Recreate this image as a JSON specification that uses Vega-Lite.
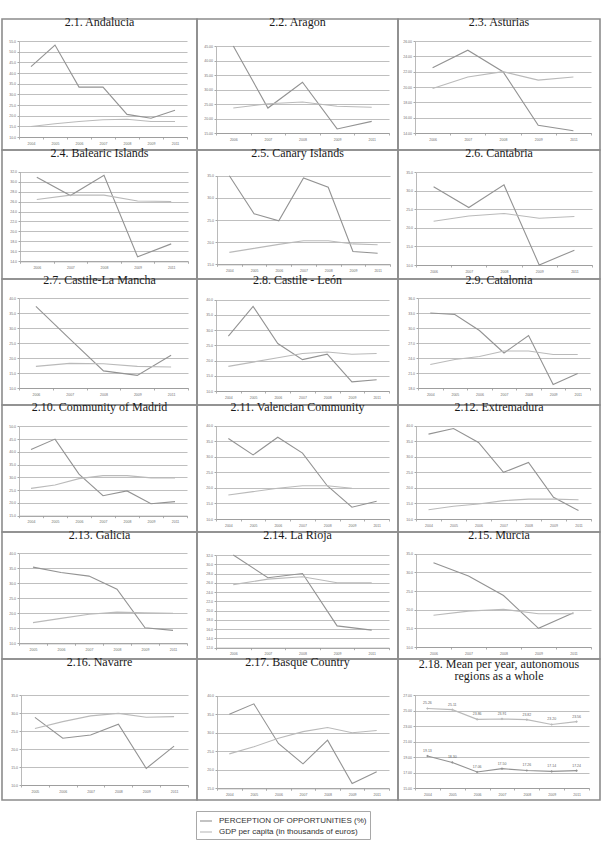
{
  "$schema": "https://vega.github.io/schema/vega-lite/v6.json",
  "padding": {"left": 1, "top": 14, "right": 0, "bottom": 0},
  "background": "white",
  "bounds": "flush",
  "spacing": 0,
  "columns": 3,
  "datasets": {
    "regions": [
    {"p":"2.1","y":"2004","s":"P","v":43.0},{"p":"2.1","y":"2005","s":"P","v":53.1},{"p":"2.1","y":"2006","s":"P","v":33.4},{"p":"2.1","y":"2007","s":"P","v":33.4},{"p":"2.1","y":"2008","s":"P","v":20.6},{"p":"2.1","y":"2009","s":"P","v":18.8},{"p":"2.1","y":"2011","s":"P","v":22.5},
    {"p":"2.1","y":"2004","s":"G","v":14.9},{"p":"2.1","y":"2005","s":"G","v":16.2},{"p":"2.1","y":"2006","s":"G","v":17.3},{"p":"2.1","y":"2007","s":"G","v":18.1},{"p":"2.1","y":"2008","s":"G","v":18.3},{"p":"2.1","y":"2009","s":"G","v":17.3},{"p":"2.1","y":"2011","s":"G","v":17.3},
    {"p":"2.2","y":"2006","s":"P","v":45.0},{"p":"2.2","y":"2007","s":"P","v":23.6},{"p":"2.2","y":"2008","s":"P","v":32.5},{"p":"2.2","y":"2009","s":"P","v":16.4},{"p":"2.2","y":"2011","s":"P","v":19.0},
    {"p":"2.2","y":"2006","s":"G","v":23.6},{"p":"2.2","y":"2007","s":"G","v":25.1},{"p":"2.2","y":"2008","s":"G","v":25.7},{"p":"2.2","y":"2009","s":"G","v":24.2},{"p":"2.2","y":"2011","s":"G","v":23.9},
    {"p":"2.3","y":"2006","s":"P","v":22.5},{"p":"2.3","y":"2007","s":"P","v":24.8},{"p":"2.3","y":"2008","s":"P","v":22.0},{"p":"2.3","y":"2009","s":"P","v":15.0},{"p":"2.3","y":"2011","s":"P","v":14.3},
    {"p":"2.3","y":"2006","s":"G","v":19.8},{"p":"2.3","y":"2007","s":"G","v":21.3},{"p":"2.3","y":"2008","s":"G","v":22.0},{"p":"2.3","y":"2009","s":"G","v":20.9},{"p":"2.3","y":"2011","s":"G","v":21.3},
    {"p":"2.4","y":"2006","s":"P","v":30.9},{"p":"2.4","y":"2007","s":"P","v":27.2},{"p":"2.4","y":"2008","s":"P","v":31.3},{"p":"2.4","y":"2009","s":"P","v":14.9},{"p":"2.4","y":"2011","s":"P","v":17.5},
    {"p":"2.4","y":"2006","s":"G","v":26.4},{"p":"2.4","y":"2007","s":"G","v":27.3},{"p":"2.4","y":"2008","s":"G","v":27.3},{"p":"2.4","y":"2009","s":"G","v":26.1},{"p":"2.4","y":"2011","s":"G","v":26.0},
    {"p":"2.5","y":"2004","s":"P","v":35.0},{"p":"2.5","y":"2005","s":"P","v":26.4},{"p":"2.5","y":"2006","s":"P","v":24.8},{"p":"2.5","y":"2007","s":"P","v":34.5},{"p":"2.5","y":"2008","s":"P","v":32.4},{"p":"2.5","y":"2009","s":"P","v":17.9},{"p":"2.5","y":"2011","s":"P","v":17.5},
    {"p":"2.5","y":"2004","s":"G","v":17.7},{"p":"2.5","y":"2005","s":"G","v":18.6},{"p":"2.5","y":"2006","s":"G","v":19.5},{"p":"2.5","y":"2007","s":"G","v":20.3},{"p":"2.5","y":"2008","s":"G","v":20.3},{"p":"2.5","y":"2009","s":"G","v":19.6},{"p":"2.5","y":"2011","s":"G","v":19.4},
    {"p":"2.6","y":"2006","s":"P","v":31.1},{"p":"2.6","y":"2007","s":"P","v":25.5},{"p":"2.6","y":"2008","s":"P","v":31.6},{"p":"2.6","y":"2009","s":"P","v":10.0},{"p":"2.6","y":"2011","s":"P","v":14.0},
    {"p":"2.6","y":"2006","s":"G","v":21.8},{"p":"2.6","y":"2007","s":"G","v":23.2},{"p":"2.6","y":"2008","s":"G","v":23.9},{"p":"2.6","y":"2009","s":"G","v":22.6},{"p":"2.6","y":"2011","s":"G","v":23.1},
    {"p":"2.7","y":"2006","s":"P","v":37.2},{"p":"2.7","y":"2007","s":"P","v":26.4},{"p":"2.7","y":"2008","s":"P","v":15.7},{"p":"2.7","y":"2009","s":"P","v":14.2},{"p":"2.7","y":"2011","s":"P","v":20.9},
    {"p":"2.7","y":"2006","s":"G","v":17.2},{"p":"2.7","y":"2007","s":"G","v":18.2},{"p":"2.7","y":"2008","s":"G","v":18.1},{"p":"2.7","y":"2009","s":"G","v":17.2},{"p":"2.7","y":"2011","s":"G","v":17.0},
    {"p":"2.8","y":"2004","s":"P","v":28.0},{"p":"2.8","y":"2005","s":"P","v":37.8},{"p":"2.8","y":"2006","s":"P","v":25.6},{"p":"2.8","y":"2007","s":"P","v":20.3},{"p":"2.8","y":"2008","s":"P","v":22.1},{"p":"2.8","y":"2009","s":"P","v":13.0},{"p":"2.8","y":"2011","s":"P","v":13.7},
    {"p":"2.8","y":"2004","s":"G","v":18.1},{"p":"2.8","y":"2005","s":"G","v":19.5},{"p":"2.8","y":"2006","s":"G","v":20.9},{"p":"2.8","y":"2007","s":"G","v":22.3},{"p":"2.8","y":"2008","s":"G","v":22.8},{"p":"2.8","y":"2009","s":"G","v":22.1},{"p":"2.8","y":"2011","s":"G","v":22.3},
    {"p":"2.9","y":"2004","s":"P","v":33.0},{"p":"2.9","y":"2005","s":"P","v":32.7},{"p":"2.9","y":"2006","s":"P","v":29.5},{"p":"2.9","y":"2007","s":"P","v":25.0},{"p":"2.9","y":"2008","s":"P","v":28.5},{"p":"2.9","y":"2009","s":"P","v":18.7},{"p":"2.9","y":"2011","s":"P","v":20.9},
    {"p":"2.9","y":"2004","s":"G","v":22.7},{"p":"2.9","y":"2005","s":"G","v":23.7},{"p":"2.9","y":"2006","s":"G","v":24.3},{"p":"2.9","y":"2007","s":"G","v":25.4},{"p":"2.9","y":"2008","s":"G","v":25.4},{"p":"2.9","y":"2009","s":"G","v":24.7},{"p":"2.9","y":"2011","s":"G","v":24.7},
    {"p":"2.10","y":"2004","s":"P","v":40.9},{"p":"2.10","y":"2005","s":"P","v":45.0},{"p":"2.10","y":"2006","s":"P","v":31.3},{"p":"2.10","y":"2007","s":"P","v":22.8},{"p":"2.10","y":"2008","s":"P","v":24.7},{"p":"2.10","y":"2009","s":"P","v":19.7},{"p":"2.10","y":"2011","s":"P","v":20.5},
    {"p":"2.10","y":"2004","s":"G","v":25.7},{"p":"2.10","y":"2005","s":"G","v":27.0},{"p":"2.10","y":"2006","s":"G","v":29.5},{"p":"2.10","y":"2007","s":"G","v":30.7},{"p":"2.10","y":"2008","s":"G","v":30.7},{"p":"2.10","y":"2009","s":"G","v":29.8},{"p":"2.10","y":"2011","s":"G","v":29.8},
    {"p":"2.11","y":"2004","s":"P","v":35.9},{"p":"2.11","y":"2005","s":"P","v":30.6},{"p":"2.11","y":"2006","s":"P","v":36.3},{"p":"2.11","y":"2007","s":"P","v":31.2},{"p":"2.11","y":"2008","s":"P","v":20.7},{"p":"2.11","y":"2009","s":"P","v":13.8},{"p":"2.11","y":"2011","s":"P","v":15.7},
    {"p":"2.11","y":"2004","s":"G","v":17.7},{"p":"2.11","y":"2005","s":"G","v":18.8},{"p":"2.11","y":"2006","s":"G","v":19.9},{"p":"2.11","y":"2007","s":"G","v":20.7},{"p":"2.11","y":"2008","s":"G","v":20.7},{"p":"2.11","y":"2009","s":"G","v":19.9},
    {"p":"2.12","y":"2004","s":"P","v":37.3},{"p":"2.12","y":"2005","s":"P","v":39.1},{"p":"2.12","y":"2006","s":"P","v":34.6},{"p":"2.12","y":"2007","s":"P","v":25.0},{"p":"2.12","y":"2008","s":"P","v":28.2},{"p":"2.12","y":"2009","s":"P","v":17.0},{"p":"2.12","y":"2011","s":"P","v":12.7},
    {"p":"2.12","y":"2004","s":"G","v":13.0},{"p":"2.12","y":"2005","s":"G","v":14.1},{"p":"2.12","y":"2006","s":"G","v":14.8},{"p":"2.12","y":"2007","s":"G","v":15.9},{"p":"2.12","y":"2008","s":"G","v":16.4},{"p":"2.12","y":"2009","s":"G","v":16.4},{"p":"2.12","y":"2011","s":"G","v":16.2},
    {"p":"2.13","y":"2005","s":"P","v":35.4},{"p":"2.13","y":"2006","s":"P","v":33.6},{"p":"2.13","y":"2007","s":"P","v":32.4},{"p":"2.13","y":"2008","s":"P","v":28.0},{"p":"2.13","y":"2009","s":"P","v":15.2},{"p":"2.13","y":"2011","s":"P","v":14.3},
    {"p":"2.13","y":"2005","s":"G","v":16.9},{"p":"2.13","y":"2006","s":"G","v":18.3},{"p":"2.13","y":"2007","s":"G","v":19.7},{"p":"2.13","y":"2008","s":"G","v":20.4},{"p":"2.13","y":"2009","s":"G","v":20.2},{"p":"2.13","y":"2011","s":"G","v":20.0},
    {"p":"2.14","y":"2006","s":"P","v":32.0},{"p":"2.14","y":"2007","s":"P","v":27.1},{"p":"2.14","y":"2008","s":"P","v":28.0},{"p":"2.14","y":"2009","s":"P","v":16.7},{"p":"2.14","y":"2011","s":"P","v":15.8},
    {"p":"2.14","y":"2006","s":"G","v":25.6},{"p":"2.14","y":"2007","s":"G","v":26.8},{"p":"2.14","y":"2008","s":"G","v":27.3},{"p":"2.14","y":"2009","s":"G","v":26.0},{"p":"2.14","y":"2011","s":"G","v":26.0},
    {"p":"2.15","y":"2006","s":"P","v":32.6},{"p":"2.15","y":"2007","s":"P","v":29.0},{"p":"2.15","y":"2008","s":"P","v":23.8},{"p":"2.15","y":"2009","s":"P","v":15.0},{"p":"2.15","y":"2011","s":"P","v":19.2},
    {"p":"2.15","y":"2006","s":"G","v":18.5},{"p":"2.15","y":"2007","s":"G","v":19.6},{"p":"2.15","y":"2008","s":"G","v":20.1},{"p":"2.15","y":"2009","s":"G","v":18.9},{"p":"2.15","y":"2011","s":"G","v":18.9},
    {"p":"2.16","y":"2005","s":"P","v":28.8},{"p":"2.16","y":"2006","s":"P","v":23.0},{"p":"2.16","y":"2007","s":"P","v":23.9},{"p":"2.16","y":"2008","s":"P","v":26.9},{"p":"2.16","y":"2009","s":"P","v":14.6},{"p":"2.16","y":"2011","s":"P","v":20.8},
    {"p":"2.16","y":"2005","s":"G","v":25.7},{"p":"2.16","y":"2006","s":"G","v":27.6},{"p":"2.16","y":"2007","s":"G","v":29.2},{"p":"2.16","y":"2008","s":"G","v":29.9},{"p":"2.16","y":"2009","s":"G","v":28.8},{"p":"2.16","y":"2011","s":"G","v":29.0},
    {"p":"2.17","y":"2004","s":"P","v":35.0},{"p":"2.17","y":"2005","s":"P","v":37.8},{"p":"2.17","y":"2006","s":"P","v":27.1},{"p":"2.17","y":"2007","s":"P","v":21.6},{"p":"2.17","y":"2008","s":"P","v":28.0},{"p":"2.17","y":"2009","s":"P","v":16.3},{"p":"2.17","y":"2011","s":"P","v":19.5},
    {"p":"2.17","y":"2004","s":"G","v":24.3},{"p":"2.17","y":"2005","s":"G","v":26.2},{"p":"2.17","y":"2006","s":"G","v":28.5},{"p":"2.17","y":"2007","s":"G","v":30.3},{"p":"2.17","y":"2008","s":"G","v":31.4},{"p":"2.17","y":"2009","s":"G","v":30.0},{"p":"2.17","y":"2011","s":"G","v":30.6},
    {"p":"2.18","y":"2004","s":"G","v":25.26},{"p":"2.18","y":"2005","s":"G","v":25.11},{"p":"2.18","y":"2006","s":"G","v":23.86},{"p":"2.18","y":"2007","s":"G","v":23.91},{"p":"2.18","y":"2008","s":"G","v":23.82},{"p":"2.18","y":"2009","s":"G","v":23.20},{"p":"2.18","y":"2011","s":"G","v":23.56},
    {"p":"2.18","y":"2004","s":"P","v":19.13},{"p":"2.18","y":"2005","s":"P","v":18.30},{"p":"2.18","y":"2006","s":"P","v":17.06},{"p":"2.18","y":"2007","s":"P","v":17.50},{"p":"2.18","y":"2008","s":"P","v":17.26},{"p":"2.18","y":"2009","s":"P","v":17.14},{"p":"2.18","y":"2011","s":"P","v":17.24}
    ],
    "series": [
      {"s": "P", "name": "PERCEPTION OF OPPORTUNITIES (%)"},
      {"s": "G", "name": "GDP per capita (in thousands of euros)"}
    ]
  },
  "data": {"name": "regions"},
  "concat": [
      {"width": 195, "height": 131, "title": {"text": "2.1. Andalucia", "offset": -9.5},
       "transform": [{"filter": "datum.p === '2.1'"}, {"lookup": "s", "from": {"data": {"name": "series"}, "key": "s", "fields": ["name"]}}], "mark": "line",
       "encoding": {
         "x": {"field": "y", "type": "ordinal", "title": null, "scale": {"type": "band", "range": [17, 185], "paddingInner": 0, "paddingOuter": 0}, "axis": {"offset": -13}},
         "y": {"field": "v", "type": "quantitative", "title": null, "scale": {"domain": [10, 55], "range": [118, 22], "nice": false, "zero": false}, "axis": {"offset": -17, "values": [10,15,20,25,30,35,40,45,50,55], "format": ".1f"}},
         "color": {"field": "name", "type": "nominal", "title": null, "scale": {"domain": ["PERCEPTION OF OPPORTUNITIES (%)", "GDP per capita (in thousands of euros)"], "range": ["#939393", "#bababa"]}}
       }},
      {"width": 201, "height": 131, "title": {"text": "2.2. Aragon", "offset": -9.5},
       "transform": [{"filter": "datum.p === '2.2'"}, {"lookup": "s", "from": {"data": {"name": "series"}, "key": "s", "fields": ["name"]}}], "mark": "line",
       "encoding": {
         "x": {"field": "y", "type": "ordinal", "title": null, "scale": {"type": "band", "range": [19, 192], "paddingInner": 0, "paddingOuter": 0}, "axis": {"offset": -17}},
         "y": {"field": "v", "type": "quantitative", "title": null, "scale": {"domain": [15, 45], "range": [114, 27], "nice": false, "zero": false}, "axis": {"offset": -19, "values": [15,20,25,30,35,40,45], "format": ".2f"}},
         "color": {"field": "name", "type": "nominal", "title": null}
       }},
      {"width": 202, "height": 131, "title": {"text": "2.3. Asturias", "offset": -9.5},
       "transform": [{"filter": "datum.p === '2.3'"}, {"lookup": "s", "from": {"data": {"name": "series"}, "key": "s", "fields": ["name"]}}], "mark": "line",
       "encoding": {
         "x": {"field": "y", "type": "ordinal", "title": null, "scale": {"type": "band", "range": [17, 193], "paddingInner": 0, "paddingOuter": 0}, "axis": {"offset": -17}},
         "y": {"field": "v", "type": "quantitative", "title": null, "scale": {"domain": [14, 26], "range": [114, 22], "nice": false, "zero": false}, "axis": {"offset": -17, "values": [14,16,18,20,22,24,26], "format": ".2f"}},
         "color": {"field": "name", "type": "nominal", "title": null}
       }},
      {"width": 195, "height": 129, "title": {"text": "2.4. Balearic Islands", "offset": -9.5},
       "transform": [{"filter": "datum.p === '2.4'"}, {"lookup": "s", "from": {"data": {"name": "series"}, "key": "s", "fields": ["name"]}}], "mark": "line",
       "encoding": {
         "x": {"field": "y", "type": "ordinal", "title": null, "scale": {"type": "band", "range": [18, 186], "paddingInner": 0, "paddingOuter": 0}, "axis": {"offset": -17.7}},
         "y": {"field": "v", "type": "quantitative", "title": null, "scale": {"domain": [14, 32], "range": [111.3, 21.7], "nice": false, "zero": false}, "axis": {"offset": -18, "values": [14,16,18,20,22,24,26,28,30,32], "format": ".1f"}},
         "color": {"field": "name", "type": "nominal", "title": null}
       }},
      {"width": 201, "height": 129, "title": {"text": "2.5. Canary Islands", "offset": -9.5},
       "transform": [{"filter": "datum.p === '2.5'"}, {"lookup": "s", "from": {"data": {"name": "series"}, "key": "s", "fields": ["name"]}}], "mark": "line",
       "encoding": {
         "x": {"field": "y", "type": "ordinal", "title": null, "scale": {"type": "band", "range": [20, 193], "paddingInner": 0, "paddingOuter": 0}, "axis": {"offset": -14.7}},
         "y": {"field": "v", "type": "quantitative", "title": null, "scale": {"domain": [15, 35], "range": [114.3, 25.7], "nice": false, "zero": false}, "axis": {"offset": -20, "values": [15,20,25,30,35], "format": ".1f"}},
         "color": {"field": "name", "type": "nominal", "title": null}
       }},
      {"width": 202, "height": 129, "title": {"text": "2.6. Cantabria", "offset": -9.5},
       "transform": [{"filter": "datum.p === '2.6'"}, {"lookup": "s", "from": {"data": {"name": "series"}, "key": "s", "fields": ["name"]}}], "mark": "line",
       "encoding": {
         "x": {"field": "y", "type": "ordinal", "title": null, "scale": {"type": "band", "range": [18, 194], "paddingInner": 0, "paddingOuter": 0}, "axis": {"offset": -14}},
         "y": {"field": "v", "type": "quantitative", "title": null, "scale": {"domain": [10, 35], "range": [115, 22.3], "nice": false, "zero": false}, "axis": {"offset": -18, "values": [10,15,20,25,30,35], "format": ".1f"}},
         "color": {"field": "name", "type": "nominal", "title": null}
       }},
      {"width": 195, "height": 126, "title": {"text": "2.7. Castile-La Mancha", "offset": -8},
       "transform": [{"filter": "datum.p === '2.7'"}, {"lookup": "s", "from": {"data": {"name": "series"}, "key": "s", "fields": ["name"]}}], "mark": "line",
       "encoding": {
         "x": {"field": "y", "type": "ordinal", "title": null, "scale": {"type": "band", "range": [17, 186], "paddingInner": 0, "paddingOuter": 0}, "axis": {"offset": -17}},
         "y": {"field": "v", "type": "quantitative", "title": null, "scale": {"domain": [10, 40], "range": [109, 19], "nice": false, "zero": false}, "axis": {"offset": -17, "values": [10,15,20,25,30,35,40], "format": ".1f"}},
         "color": {"field": "name", "type": "nominal", "title": null}
       }},
      {"width": 201, "height": 126, "title": {"text": "2.8. Castile - León", "offset": -8},
       "transform": [{"filter": "datum.p === '2.8'"}, {"lookup": "s", "from": {"data": {"name": "series"}, "key": "s", "fields": ["name"]}}], "mark": "line",
       "encoding": {
         "x": {"field": "y", "type": "ordinal", "title": null, "scale": {"type": "band", "range": [19, 192], "paddingInner": 0, "paddingOuter": 0}, "axis": {"offset": -14}},
         "y": {"field": "v", "type": "quantitative", "title": null, "scale": {"domain": [10, 40], "range": [112, 20.7], "nice": false, "zero": false}, "axis": {"offset": -19, "values": [10,15,20,25,30,35,40], "format": ".1f"}},
         "color": {"field": "name", "type": "nominal", "title": null}
       }},
      {"width": 202, "height": 126, "title": {"text": "2.9. Catalonia", "offset": -8},
       "transform": [{"filter": "datum.p === '2.9'"}, {"lookup": "s", "from": {"data": {"name": "series"}, "key": "s", "fields": ["name"]}}], "mark": "line",
       "encoding": {
         "x": {"field": "y", "type": "ordinal", "title": null, "scale": {"type": "band", "range": [20, 192], "paddingInner": 0, "paddingOuter": 0}, "axis": {"offset": -17}},
         "y": {"field": "v", "type": "quantitative", "title": null, "scale": {"domain": [18, 36], "range": [109, 19], "nice": false, "zero": false}, "axis": {"offset": -20, "values": [18,21,24,27,30,33,36], "format": ".1f"}},
         "color": {"field": "name", "type": "nominal", "title": null}
       }},
      {"width": 195, "height": 127, "title": {"text": "2.10. Community of Madrid", "offset": -8.5},
       "transform": [{"filter": "datum.p === '2.10'"}, {"lookup": "s", "from": {"data": {"name": "series"}, "key": "s", "fields": ["name"]}}], "mark": "line",
       "encoding": {
         "x": {"field": "y", "type": "ordinal", "title": null, "scale": {"type": "band", "range": [17, 185], "paddingInner": 0, "paddingOuter": 0}, "axis": {"offset": -16.3}},
         "y": {"field": "v", "type": "quantitative", "title": null, "scale": {"domain": [15, 50], "range": [110.7, 21.3], "nice": false, "zero": false}, "axis": {"offset": -17, "values": [15,20,25,30,35,40,45,50], "format": ".1f"}},
         "color": {"field": "name", "type": "nominal", "title": null}
       }},
      {"width": 201, "height": 127, "title": {"text": "2.11. Valencian Community", "offset": -8.5},
       "transform": [{"filter": "datum.p === '2.11'"}, {"lookup": "s", "from": {"data": {"name": "series"}, "key": "s", "fields": ["name"]}}], "mark": "line",
       "encoding": {
         "x": {"field": "y", "type": "ordinal", "title": null, "scale": {"type": "band", "range": [19, 192], "paddingInner": 0, "paddingOuter": 0}, "axis": {"offset": -13}},
         "y": {"field": "v", "type": "quantitative", "title": null, "scale": {"domain": [10, 40], "range": [114, 20.7], "nice": false, "zero": false}, "axis": {"offset": -19, "values": [10,15,20,25,30,35,40], "format": ".1f"}},
         "color": {"field": "name", "type": "nominal", "title": null}
       }},
      {"width": 202, "height": 127, "title": {"text": "2.12. Extremadura", "offset": -8.5},
       "transform": [{"filter": "datum.p === '2.12'"}, {"lookup": "s", "from": {"data": {"name": "series"}, "key": "s", "fields": ["name"]}}], "mark": "line",
       "encoding": {
         "x": {"field": "y", "type": "ordinal", "title": null, "scale": {"type": "band", "range": [18, 193], "paddingInner": 0, "paddingOuter": 0}, "axis": {"offset": -13}},
         "y": {"field": "v", "type": "quantitative", "title": null, "scale": {"domain": [10, 40], "range": [114, 20.7], "nice": false, "zero": false}, "axis": {"offset": -18, "values": [10,15,20,25,30,35,40], "format": ".1f"}},
         "color": {"field": "name", "type": "nominal", "title": null}
       }},
      {"width": 195, "height": 127, "title": {"text": "2.13. Galicia", "offset": -9.5},
       "transform": [{"filter": "datum.p === '2.13'"}, {"lookup": "s", "from": {"data": {"name": "series"}, "key": "s", "fields": ["name"]}}], "mark": "line",
       "encoding": {
         "x": {"field": "y", "type": "ordinal", "title": null, "scale": {"type": "band", "range": [17, 185], "paddingInner": 0, "paddingOuter": 0}, "axis": {"offset": -15.7}},
         "y": {"field": "v", "type": "quantitative", "title": null, "scale": {"domain": [10, 40], "range": [111.3, 21.3], "nice": false, "zero": false}, "axis": {"offset": -17, "values": [10,15,20,25,30,35,40], "format": ".1f"}},
         "color": {"field": "name", "type": "nominal", "title": null}
       }},
      {"width": 201, "height": 127, "title": {"text": "2.14. La Rioja", "offset": -9.5},
       "transform": [{"filter": "datum.p === '2.14'"}, {"lookup": "s", "from": {"data": {"name": "series"}, "key": "s", "fields": ["name"]}}], "mark": "line",
       "encoding": {
         "x": {"field": "y", "type": "ordinal", "title": null, "scale": {"type": "band", "range": [19, 192], "paddingInner": 0, "paddingOuter": 0}, "axis": {"offset": -11.3}},
         "y": {"field": "v", "type": "quantitative", "title": null, "scale": {"domain": [12, 32], "range": [115.7, 23], "nice": false, "zero": false}, "axis": {"offset": -19, "values": [12,14,16,18,20,22,24,26,28,30,32], "format": ".1f"}},
         "color": {"field": "name", "type": "nominal", "title": null}
       }},
      {"width": 202, "height": 127, "title": {"text": "2.15. Murcia", "offset": -9.5},
       "transform": [{"filter": "datum.p === '2.15'"}, {"lookup": "s", "from": {"data": {"name": "series"}, "key": "s", "fields": ["name"]}}], "mark": "line",
       "encoding": {
         "x": {"field": "y", "type": "ordinal", "title": null, "scale": {"type": "band", "range": [18, 193], "paddingInner": 0, "paddingOuter": 0}, "axis": {"offset": -12}},
         "y": {"field": "v", "type": "quantitative", "title": null, "scale": {"domain": [10, 35], "range": [115, 21.7], "nice": false, "zero": false}, "axis": {"offset": -18, "values": [10,15,20,25,30,35], "format": ".1f"}},
         "color": {"field": "name", "type": "nominal", "title": null}
       }},
      {"width": 195, "height": 141, "title": {"text": "2.16. Navarre", "offset": -10},
       "transform": [{"filter": "datum.p === '2.16'"}, {"lookup": "s", "from": {"data": {"name": "series"}, "key": "s", "fields": ["name"]}}], "mark": "line",
       "encoding": {
         "x": {"field": "y", "type": "ordinal", "title": null, "scale": {"type": "band", "range": [19, 186], "paddingInner": 0, "paddingOuter": 0}, "axis": {"offset": -15}},
         "y": {"field": "v", "type": "quantitative", "title": null, "scale": {"domain": [10, 35], "range": [126, 36], "nice": false, "zero": false}, "axis": {"offset": -19, "values": [10,15,20,25,30,35], "format": ".1f"}},
         "color": {"field": "name", "type": "nominal", "title": null}
       }},
      {"width": 201, "height": 141, "title": {"text": "2.17. Basque Country", "offset": -10},
       "transform": [{"filter": "datum.p === '2.17'"}, {"lookup": "s", "from": {"data": {"name": "series"}, "key": "s", "fields": ["name"]}}], "mark": "line",
       "encoding": {
         "x": {"field": "y", "type": "ordinal", "title": null, "scale": {"type": "band", "range": [20, 192], "paddingInner": 0, "paddingOuter": 0}, "axis": {"offset": -11.7}},
         "y": {"field": "v", "type": "quantitative", "title": null, "scale": {"domain": [15, 40], "range": [129.3, 36.7], "nice": false, "zero": false}, "axis": {"offset": -20, "values": [15,20,25,30,35,40], "format": ".1f"}},
         "color": {"field": "name", "type": "nominal", "title": null}
       }},
      {"width": 202, "height": 141, "title": {"text": ["2.18. Mean per year, autonomous", "regions as a whole"], "offset": -24, "lineHeight": 12.5},
       "transform": [{"filter": "datum.p === '2.18'"}, {"lookup": "s", "from": {"data": {"name": "series"}, "key": "s", "fields": ["name"]}}],
       "encoding": {
         "x": {"field": "y", "type": "ordinal", "title": null, "scale": {"type": "band", "range": [17, 191], "paddingInner": 0, "paddingOuter": 0}, "axis": {"offset": -12}},
         "y": {"field": "v", "type": "quantitative", "title": null, "scale": {"domain": [15, 27], "range": [129, 36], "nice": false, "zero": false}, "axis": {"offset": -17, "values": [15,17,19,21,23,25,27], "format": ".2f"}},
         "color": {"field": "name", "type": "nominal", "title": null}
       },
       "layer": [
         {"mark": "line"},
         {"mark": {"type": "point", "shape": "diamond", "filled": true, "size": 7, "opacity": 1}},
         {"mark": {"type": "text", "dy": -5, "fontSize": 3.5, "font": "Liberation Sans"},
          "encoding": {"text": {"field": "v", "type": "quantitative", "format": ".2f"}, "color": {"value": "#666666"}}}
       ]}
  ],
  "config": {
    "font": "Liberation Sans",
    "view": {"stroke": "#8c8c8c", "strokeWidth": 1.6},
    "title": {"font": "Liberation Serif", "fontSize": 12, "fontWeight": "normal", "color": "#1a1a1a", "anchor": "middle", "frame": "group", "baseline": "middle"},
    "line": {"strokeWidth": 1.1},
    "legend": {"orient": "none", "legendX": 194, "legendY": 792, "direction": "vertical", "symbolSize": 144, "symbolStrokeWidth": 1.3, "labelFont": "Liberation Sans", "labelFontSize": 8, "labelColor": "#333333", "labelOffset": 6, "labelLimit": 300, "rowPadding": 0, "padding": 3, "strokeColor": "#a8a8a8", "fillColor": "#ffffff"},
    "axisX": {"grid": false, "domainColor": "#9a9a9a", "domainWidth": 0.9, "tickColor": "#9a9a9a", "tickSize": 2, "tickWidth": 0.8, "tickBand": "extent", "labelFontSize": 3.5, "labelColor": "#707070", "labelAngle": 0, "labelPadding": 2},
    "axisY": {"grid": true, "gridColor": "#b8b8b8", "gridWidth": 0.9, "domainColor": "#a8a8a8", "domainWidth": 0.8, "tickColor": "#a8a8a8", "tickSize": 2, "labelFontSize": 3.5, "labelColor": "#707070", "labelPadding": 1.5, "labelOverlap": false}
  }
}
